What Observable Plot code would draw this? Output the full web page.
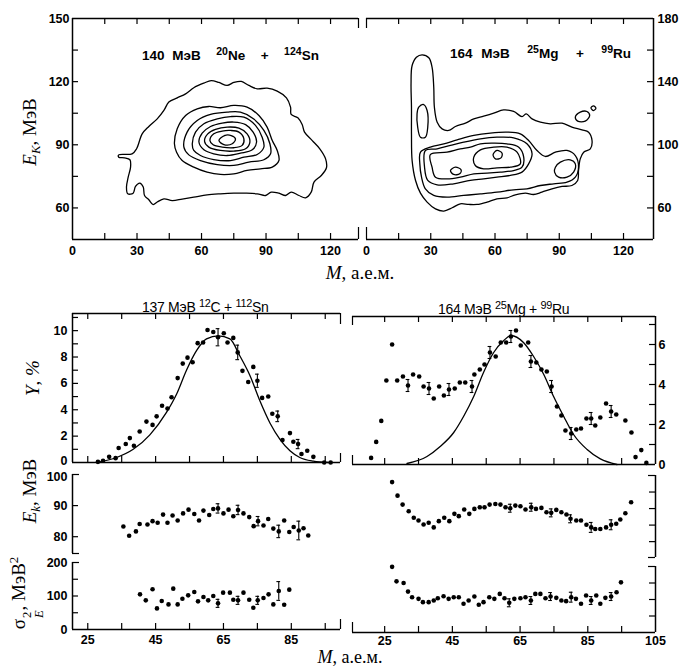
<!DOCTYPE html>
<html>
<head>
<meta charset="utf-8">
<script src="https://cdn.jsdelivr.net/npm/d3@7"></script>
<script src="https://cdn.jsdelivr.net/npm/@observablehq/plot@0.6"></script>
<style>
  body { margin: 0; background: #fff; }
  #fig { position: relative; width: 682px; height: 669px; overflow: hidden; background: #fff; }
  #fig svg { position: absolute; left: 0; top: 0; }
  .lab { position: absolute; white-space: nowrap; line-height: 1; color: #000;
         font-family: "Liberation Serif", "DejaVu Serif", serif; font-size: 19px;
         transform: translate(-50%, -50%); }
  .lab.rot { transform: translate(-50%, -50%) rotate(-90deg); }
  .lab sub { font-size: 0.68em; vertical-align: -0.35em; line-height: 0; }
  .lab sup { font-size: 0.68em; vertical-align: 0.55em; line-height: 0; }
  .stk { display: inline-flex; flex-direction: column; align-items: flex-start; font-size: 0.66em;
         line-height: 0.95; vertical-align: -0.5em; margin-left: 1px; }
  .tt { position: absolute; white-space: nowrap; line-height: 1; color: #000;
        font-family: "Liberation Sans", Arial, sans-serif; transform: translateY(-50%); }
  .tt sup { font-size: 0.78em; vertical-align: 0.5em; line-height: 0; }
</style>
</head>
<body>
<div id="fig"></div>
<script>
// ---------- Contour maps E_K vs M (closed iso-lines, [M, E_K]) ----------
const neSnContours = [
  [[21.5,85.2],[27.7,85.7],[29.8,88.1],[32.4,95.2],[35.5,98.7],[39.4,102.3],[42.5,106.3],[44.8,110.3],[48.7,112.3],[52.6,114.2],[56.4,117.1],[61.1,119.3],[64.5,120.5],[68.1,119.6],[71.9,118.2],[75,119.6],[78.5,120.1],[82,118.2],[85.9,116.6],[90.5,116.9],[95.2,115.5],[99.5,112.3],[101.4,107.9],[101.7,104.4],[104.8,102.8],[106.8,99.6],[107.9,96],[111.5,92],[115,88.1],[117.7,83.3],[118.1,79.1],[115.7,75.4],[112.3,72.3],[111,67.5],[108.4,64.8],[105.3,65.9],[101.7,67.5],[99.1,65.9],[96,67],[92.4,67.5],[89.8,65.9],[85.9,66.7],[80.5,67],[75,67],[68.8,66.7],[62.6,66.2],[56.4,65.1],[51,64.2],[46.4,63.5],[42.5,64.3],[39.4,62.8],[37.5,61.6],[35.5,63.9],[33.5,65.9],[32.9,69.9],[31.3,71.8],[29.3,70.2],[28.2,67],[25.7,66.7],[25.1,69.9],[25.9,74.6],[27,79.4],[26.7,82.9],[24.2,83.8],[21.5,84.1]],
  [[47.4,90.5],[48.7,97.6],[52.6,103.9],[58,107.1],[63.4,108.2],[68.8,107.6],[75,108.7],[81.2,107.9],[86.7,103.9],[90.5,98.4],[92.9,92],[95.2,87.3],[96,82.5],[92.9,79.4],[87.4,78.6],[81.2,77.8],[75,76.2],[68.8,75.9],[62.6,77],[56.4,79.4],[51,82.5],[48.4,86.5]],
  [[51.8,88.9],[53.3,96],[58,101.5],[64.2,104.4],[71.9,105.5],[78.1,105.5],[84.3,102.3],[89,96.8],[91.8,90.5],[92.1,85.7],[89,82.9],[82,81.8],[75,80.2],[67.3,80.6],[59.5,82.5],[54.1,85.2]],
  [[55.7,90.5],[57.2,96],[61.1,100],[67.3,102.3],[73.5,103.4],[79.7,103.1],[85.1,99.2],[88.2,93.6],[89,88.9],[85.9,85.4],[79.7,84.1],[73.5,82.5],[65.7,83],[59.5,84.9],[56.4,87.3]],
  [[58.8,91.3],[60.3,95.5],[64.2,98.7],[69.6,100.3],[75,100.8],[80.5,99.6],[84,96],[85.6,91.3],[83.6,87.6],[78.1,86],[71.9,84.9],[65.7,85.7],[61.1,87.6]],
  [[61.4,91.7],[62.9,95.2],[66.5,97.3],[71.9,98.4],[77.4,97.9],[81.2,95.2],[82.5,91.3],[80.5,88.1],[75,87],[68.8,87.3],[63.4,88.9]],
  [[63.9,92],[65.7,95.2],[69.6,96.5],[73.5,96.8],[77.4,96],[79.7,92.8],[78.9,89.7],[75,88.6],[69.6,88.9],[65.4,90]],
  [[68.1,92],[70.7,94.4],[73.8,94.4],[75.8,92.8],[74.3,90.5],[70.4,90.1]]
];

const mgRuContours = [
  [[26,157],[29.1,155.1],[30.6,149.2],[31.4,136.5],[31.7,123.8],[33,114.3],[35.3,110.1],[38.4,109.1],[41.5,111.6],[46.2,113.7],[50.1,116.4],[54.7,118.1],[59.4,120],[64,122.1],[68.7,121.1],[72.6,117.9],[74.6,119.6],[77.3,116.4],[81.2,114.3],[85.8,113.3],[91.3,113.7],[95.9,111.2],[100.6,109.5],[103.7,108],[105.3,102.7],[104.5,97.4],[101.4,95.3],[99.8,91.1],[99,83.7],[98.6,77.4],[95.9,74.2],[91.3,73.6],[86.6,72.1],[81.9,70],[78,68.5],[74.2,69.4],[69.5,68.3],[65.6,66.4],[60.9,65.8],[56.3,63.7],[51.6,62.2],[47.7,62.2],[43.8,62.6],[40,60.1],[36.1,58],[32.2,59.4],[28.3,63.7],[25.2,69.4],[22.9,77.4],[21.3,90],[21,106.9],[21,123.8],[20.8,138.6],[21.3,150.2],[23.3,155.5]],
  [[24.4,123.8],[26.7,125.5],[28.3,121.7],[28.6,111.2],[27.5,104.8],[25.2,104.8],[23.9,111.2],[23.6,119.6]],
  [[25.2,95.3],[29.8,98.5],[36.1,100.6],[42.3,103.1],[50.1,105.9],[57.8,107.4],[65.6,108],[71.8,106.9],[75.7,102.7],[79.6,96.4],[83.5,92.6],[88.2,95.3],[93.6,96.4],[97.5,93.2],[99,85.8],[97.5,79.5],[93.6,76.3],[87.4,75.3],[81.2,74.2],[74.9,72.1],[68.7,71.5],[60.9,70],[53.2,68.9],[45.4,67.9],[37.6,66.8],[31.4,67.9],[27.5,72.1],[25.7,79.5],[24.9,87.9]],
  [[88.2,85.8],[90.5,89],[95.1,90.5],[97.5,87.9],[96.7,82.7],[93.6,79.5],[89.7,79.5],[87.8,82.7]],
  [[27.5,96.4],[33,97.4],[39.2,99.6],[45.4,101.7],[53.2,103.8],[60.9,104.8],[68.7,104.4],[74.9,100.6],[77.3,94.3],[75.7,87.9],[72.6,82.7],[67.2,80.6],[60.9,79.5],[54.7,78.4],[48.5,77.4],[40.7,75.3],[33,74.6],[28.6,77.4],[27.1,85.8]],
  [[29.8,93.8],[37.6,95.3],[43.8,97.4],[48.5,98.5],[53.2,100.6],[59.4,101],[65.6,100.6],[71.1,98.5],[73.4,92.2],[72.6,85.8],[68.7,83.7],[62.5,82.7],[56.3,82],[50.1,81.6],[43.8,79.5],[37.6,78.4],[32.2,79.5],[30.6,85.8]],
  [[50.1,92.2],[53.2,96.8],[59.4,98.5],[65.6,98.5],[70.3,95.3],[71.8,87.9],[67.2,85.8],[60.9,85.4],[54.7,84.8],[50.8,86.9]],
  [[39.2,83.7],[41.5,85.8],[44.2,84.1],[43.5,81.6],[40.7,81.2]],
  [[59.1,93.8],[60.9,96.4],[63.3,94.7],[62.8,91.7],[60.2,91.1]],
  [[97.5,117.5],[99.8,120.7],[102.9,121.1],[104.2,118.6],[102.1,115],[98.6,115]],
  [[104.8,123.4],[106,124.7],[107.1,123.2],[106,121.7]]
];

// ---------- Yields Y(M), % : points [M, Y], error points [M, Y, ±] ----------
const yieldCSn = [[28,0.05],[29.5,0.13],[31.3,0.43],[33.2,0.33],[34.1,1.1],[36.2,1.4],[37.4,1.85],[38.6,1.27],[40.3,2.35],[42.3,3.1],[44.1,2.85],[45.3,3.5],[46.9,4.3],[48.5,4.1],[49.7,4.95],[51.5,6.4],[53,7.5],[54.4,7.95],[55.9,7.6],[57.4,9.05],[59,9.1],[60.3,10.05],[62,9.9],[65.1,9.8],[66.2,9.1],[67.9,9.45],[70.6,6.95],[72.3,6.1],[73.8,7.25],[76.4,4.9],[78.2,5.0],[79.4,3.7],[82.4,1.7],[84.6,2.23],[85.6,1.57],[88,0.64],[89.7,0.89],[91.5,0.43],[94.7,0],[96.6,0]];
const yieldCSnErr = [[63.4,9.5,0.65],[69.2,8.35,0.55],[75,6.2,0.5],[81,3.5,0.4],[87,1.4,0.35]];
const yieldCSnFit = [[27.6,0],[33.5,0.38],[38.4,1.0],[43.3,2.1],[48.2,3.8],[51.2,5.2],[54.1,7.0],[57.1,8.5],[60,9.37],[63.5,9.6],[66.9,9.37],[69.8,8.1],[72.8,6.6],[75.7,4.7],[78.7,3.0],[81.6,1.78],[84.6,0.89],[87.5,0.38],[91.5,0.1],[95.9,0]];

const yieldMgRu = [[21,0.33],[22.5,1.13],[24,2.18],[25.5,4.2],[27.2,6.0],[28.7,4.2],[30.4,4.4],[33.4,4.5],[35.2,4.4],[36.5,3.9],[39.5,3.3],[41.1,3.9],[42.5,3.45],[45.7,3.8],[47.2,4.1],[48.8,4.1],[51.5,4.5],[53.1,4.75],[54.5,5.0],[57.8,5.4],[59.3,6.1],[60.9,6.1],[63.8,6.7],[65.2,5.95],[67.4,6.1],[69.8,5.1],[71.3,4.75],[72.9,4.65],[75.9,2.9],[77.2,2.45],[78.4,1.7],[81.6,1.75],[83,1.8],[84.6,2.3],[87.2,1.95],[88.7,2.35],[90.4,3.05],[93.4,2.5],[96.1,2.2],[97.9,1.6],[99.1,0.37],[100.8,0.72],[102.3,0.08]];
const yieldMgRuErr = [[31.9,3.95,0.3],[38.1,3.8,0.3],[44,3.75,0.3],[50.8,3.9,0.3],[56.1,5.6,0.3],[62.3,6.4,0.3],[68.2,5.15,0.3],[74.3,3.9,0.3],[80.1,1.55,0.3],[86,2.3,0.3],[91.9,2.65,0.3]];
const yieldMgRuFit = [[31.6,0.05],[37.5,0.4],[41.4,0.9],[45.4,1.6],[48.3,2.4],[51.3,3.4],[54.2,4.6],[57.2,5.6],[60.2,6.2],[62.3,6.45],[66,6.1],[69,5.4],[72,4.5],[74.9,3.4],[77.9,2.4],[80.8,1.5],[84.8,0.75],[88.7,0.28],[93.6,0]];

// ---------- Mean kinetic energy E_k(M), MeV ----------
const ekCSn = [[35.5,83.3],[37.2,80.3],[39.2,81.7],[40.3,84.1],[42.6,83.9],[44.1,85],[45.6,84.5],[47.2,87.1],[48.5,84.5],[50,86.8],[51.5,85.2],[53.1,87.5],[54.7,88.7],[56.4,87.3],[57.8,85.2],[59.1,88.4],[60.8,87],[62,88.9],[65,87.5],[66.5,88.7],[67.9,86.6],[70.9,87.5],[72.6,86.3],[73.9,83.4],[76.8,83.6],[78.2,85.7],[79.7,82.6],[82.9,85.2],[84.4,81.5],[85.7,83.1],[88.6,82.7],[90,80.4]];
const ekCSnErr = [[63.4,89.1,1.5],[69.3,88.6,1.5],[75.2,85,1.5],[81.3,81.7,2],[87.2,82,3]];
const ekMgRu = [[27.2,98],[28.8,93.9],[30.3,91.2],[32.1,89.2],[33.6,87.2],[35,86.4],[36.5,85.2],[38,85.7],[39.5,84.3],[41,86.2],[42.6,87.2],[44.1,86.2],[45.6,88.4],[46.9,87.7],[48.5,89.7],[50,88.4],[51.5,89.9],[53.1,90.4],[54.5,90.4],[56,91.2],[57.7,91.4],[59.2,91.2],[60.7,90.4],[63.6,90.9],[65.1,90.7],[66.6,89.7],[69.7,89.9],[71.3,90.2],[72.8,88.9],[75.7,89.6],[77.2,88.9],[78.7,88.2],[81.6,86.4],[83,86.4],[84.6,85.1],[87.2,83.8],[88.7,83.8],[90.4,84.3],[93.4,85.4],[94.6,86.7],[96.1,88.6],[97.8,91.9]];
const ekMgRuErr = [[62.1,90.1,1.2],[68.3,90.4,1.2],[74.2,88.7,1.2],[79.9,86.9,1.2],[86,84.3,1.5],[91.9,85.1,1.5]];

// ---------- Energy variance sigma_E^2(M), MeV^2 ----------
const varCSn = [[40.4,105],[42.1,87],[44.1,120],[45.4,63],[46.8,85],[48.8,75],[50.2,122],[51.5,75],[52.9,92],[54.6,102],[56.4,112],[57.5,84],[59.1,97],[60.5,87],[62,100],[64.9,110],[66.9,110],[67.9,89],[70.9,110],[72.6,89],[73.8,65],[76.8,94],[78.3,105],[79.7,75],[82.9,74],[84.4,119]];
const varCSnErr = [[63.4,78,12],[69.3,87,12],[75.1,87,12],[81.3,115,28]];
const varMgRu = [[27.2,199],[28.5,155],[30.6,150],[31.9,124],[33.1,107],[35,102],[36.3,92],[38,92],[39.5,97],[40.7,104],[42.4,110],[43.9,102],[45.4,107],[46.9,107],[48.3,87],[49.8,97],[51.5,109],[52.8,84],[54.2,92],[55.9,107],[57.4,102],[59,117],[60.4,104],[63.3,102],[65.1,104],[66.6,107],[69.5,117],[71,117],[72.5,104],[75.7,105],[77.2,97],[78.6,95],[81.5,102],[83,87],[84.5,112],[87.5,112],[88.7,87],[90.2,105],[93.5,122],[94.8,152]];
const varMgRuErr = [[61.8,90,12],[68.2,97,12],[74,109,12],[80.1,107,15],[86,97,12],[91.9,109,12]];

// ---------- Tick values ----------
const mapTicksM = [15, 30, 45, 60, 75, 90, 105, 120];
const mapLabelsM = [0, 30, 60, 90, 120];
const neSnTicksE = [60, 75, 90, 105, 120, 135];
const neSnLabelsE = [60, 90, 120, 150];
const mgRuTicksE = [60, 80, 100, 120, 140, 160];
const mgRuLabelsE = [60, 100, 140, 180];
const massTicks = [25, 35, 45, 55, 65, 75, 85, 95];
const massLabelsLeft = [25, 45, 65, 85];
const massLabelsRight = [25, 45, 65, 85, 105];
const yieldTicksLeft = [1, 2, 3, 4, 5, 6, 7, 8, 9, 10, 11];
const yieldLabelsLeft = [2, 4, 6, 8, 10];
const yieldZeroLeft = [0];
const yieldTicksRight = [1, 2, 3, 4, 5, 6, 7];
const yieldLabelsRight = [0, 2, 4, 6];
const ekTicksLeft = [80, 90];
const ekLabels = [80, 90];
const ekTopLabel = [100];
const ekTicksRight = [80, 85, 90, 95];
const varTicks = [50, 100, 150];
const varLabels = [0, 100, 200];

// ---------- Drawing ----------
const W = 682, H = 669;
const fig = document.getElementById("fig");
const black = "black";

function panel({x, y, box, marks}) {
  const [l, t, r, b] = box;
  const svg = Plot.plot({
    width: W, height: H,
    marginLeft: l, marginTop: t, marginRight: W - r, marginBottom: H - b,
    x: {domain: x, axis: null},
    y: {domain: y, axis: null},
    style: {background: "transparent", color: black, overflow: "visible",
            fontFamily: "'Liberation Sans', Arial, sans-serif", fontSize: "12.5px", fontWeight: "bold"},
    marks
  });
  fig.appendChild(svg);
}

// inward tick marks along one edge of a frame of size fw x fh
const ticksX = (vals, fh, side, len = 6) => Plot.tickX(vals, {x: d => d, stroke: black, strokeWidth: 1.2,
  insetTop: side === "bottom" ? fh - len : 0, insetBottom: side === "top" ? fh - len : 0});
const ticksY = (vals, fw, side, len = 6) => Plot.tickY(vals, {y: d => d, stroke: black, strokeWidth: 1.2,
  insetRight: side === "left" ? fw - len : 0, insetLeft: side === "right" ? fw - len : 0});
const edgeX = v => Plot.ruleX([v], {stroke: black, strokeWidth: 1.5});
const edgeY = v => Plot.ruleY([v], {stroke: black, strokeWidth: 1.5});
const labelsX = (ticks, pad = 6) => Plot.axisX({anchor: "bottom", ticks, tickSize: 0, tickPadding: pad, label: null, tickFormat: d => String(d)});
const labelsY = (ticks, side, pad = 4, dy = 0) => Plot.axisY({anchor: side, ticks, tickSize: 0, tickPadding: pad, dy, label: null, tickFormat: d => String(d)});

const rings = sets => sets.flatMap((ring, id) => ring.map(([M, E]) => ({id, M, E})));
const contours = sets => Plot.line(rings(sets), {x: "M", y: "E", z: "id", curve: "catmull-rom-closed", stroke: black, strokeWidth: 1.3});

const cap = 0.55;
function points(pts, errs) {
  return [
    Plot.ruleX(errs, {x: d => d[0], y1: d => d[1] - d[2], y2: d => d[1] + d[2], stroke: black, strokeWidth: 1.1}),
    Plot.ruleY(errs, {y: d => d[1] + d[2], x1: d => d[0] - cap, x2: d => d[0] + cap, stroke: black, strokeWidth: 1.1}),
    Plot.ruleY(errs, {y: d => d[1] - d[2], x1: d => d[0] - cap, x2: d => d[0] + cap, stroke: black, strokeWidth: 1.1}),
    Plot.dot([...pts, ...errs], {x: d => d[0], y: d => d[1], r: 2.3, fill: black, stroke: "none"})
  ];
}
const fit = line => Plot.line(line, {x: d => d[0], y: d => d[1], curve: "monotone-x", stroke: black, strokeWidth: 1.3});

// Top left: 140 MeV 20Ne + 124Sn contour map
{
  const box = [72, 18, 358, 239], fw = box[2] - box[0], fh = box[3] - box[1];
  panel({x: [0, 133], y: [45, 150], box, marks: [
    edgeX(0), edgeY(45), edgeY(150),
    ticksX([133], fh, "top", 10), ticksX([133], fh, "bottom", 12),
    ticksX(mapTicksM, fh, "top"), ticksX(mapTicksM, fh, "bottom"),
    ticksY(neSnTicksE, fw, "left"),
    labelsX(mapLabelsM, 7), labelsY(neSnLabelsE, "left", 3),
    contours(neSnContours)
  ]});
}
// Top right: 164 MeV 25Mg + 99Ru contour map
{
  const box = [366, 18, 653, 239], fw = box[2] - box[0], fh = box[3] - box[1];
  panel({x: [0, 134], y: [40, 180], box, marks: [
    edgeX(134), edgeY(40), edgeY(180),
    ticksX([0], fh, "top", 10), ticksX([0], fh, "bottom", 12),
    ticksX(mapTicksM, fh, "top"), ticksX(mapTicksM, fh, "bottom"),
    ticksY(mgRuTicksE, fw, "right"),
    labelsX(mapLabelsM, 7), labelsY(mgRuLabelsE, "right", 4),
    contours(mgRuContours)
  ]});
}
// Yields, left (12C + 112Sn)
{
  const box = [72, 313, 340, 462], fw = box[2] - box[0], fh = box[3] - box[1];
  panel({x: [20.5, 99.5], y: [0, 11.3], box, marks: [
    edgeX(20.5), edgeY(0), edgeY(11.3),
    ticksX([99.5], fh, "top", 11), ticksX([99.5], fh, "bottom", 9),
    ticksX(massTicks, fh, "top"), ticksX(massTicks, fh, "bottom"),
    ticksY(yieldTicksLeft, fw, "left"),
    labelsY(yieldLabelsLeft, "left", 5), labelsY(yieldZeroLeft, "left", 5, -2),
    fit(yieldCSnFit), ...points(yieldCSn, yieldCSnErr)
  ]});
}
// Yields, right (25Mg + 99Ru)
{
  const box = [352, 316, 655, 464], fw = box[2] - box[0], fh = box[3] - box[1];
  panel({x: [15.5, 105], y: [0, 7.4], box, marks: [
    edgeX(105), edgeY(0), edgeY(7.4),
    ticksX([15.5], fh, "top", 9), ticksX([15.5], fh, "bottom", 9),
    ticksX(massTicks, fh, "top"), ticksX(massTicks, fh, "bottom"),
    ticksY(yieldTicksRight, fw, "right"),
    labelsY(yieldLabelsRight, "right", 3),
    fit(yieldMgRuFit), ...points(yieldMgRu, yieldMgRuErr)
  ]});
}
// Kinetic energy, left
{
  const box = [72, 474, 340, 553], fw = box[2] - box[0];
  panel({x: [20.5, 99.5], y: [74.6, 100], box, marks: [
    edgeX(20.5), ticksY([100, 74.6], fw, "left", 7), ticksY(ekTicksLeft, fw, "left"),
    labelsY(ekLabels, "left", 5), labelsY(ekTopLabel, "left", 5, 2),
    ...points(ekCSn, ekCSnErr)
  ]});
}
// Kinetic energy, right
{
  const box = [352, 475, 655, 557], fw = box[2] - box[0];
  panel({x: [15.5, 105], y: [75.2, 100], box, marks: [
    edgeX(105), ticksY([100, 75.2], fw, "right", 7), ticksY(ekTicksRight, fw, "right"),
    ...points(ekMgRu, ekMgRuErr)
  ]});
}
// Variance, left
{
  const box = [72, 562, 340, 629], fw = box[2] - box[0], fh = box[3] - box[1];
  panel({x: [20.5, 99.5], y: [0, 200], box, marks: [
    edgeX(20.5), edgeY(0), ticksY([200], fw, "left", 7), ticksY(varTicks, fw, "left"),
    ticksX([99.5], fh, "bottom", 10), ticksX(massTicks, fh, "bottom"),
    labelsX(massLabelsLeft, 6), labelsY(varLabels, "left", 5),
    ...points(varCSn, varCSnErr)
  ]});
}
// Variance, right
{
  const box = [352, 566, 655, 632], fw = box[2] - box[0], fh = box[3] - box[1];
  panel({x: [15.5, 105], y: [0, 200], box, marks: [
    edgeX(105), edgeY(0), ticksY([200], fw, "right", 7), ticksY(varTicks, fw, "right"),
    ticksX([15.5], fh, "bottom", 10), ticksX(massTicks, fh, "bottom"),
    labelsX(massLabelsRight, 4),
    ...points(varMgRu, varMgRuErr)
  ]});
}

// ---------- Titles and axis names ----------
const texts = [
  {cls: "tt", html: "140 МэВ&nbsp; <sup>20</sup>Ne&nbsp; +&nbsp; <sup>124</sup>Sn", x: 142, y: 56, style: "font-size:13.5px;font-weight:bold;word-spacing:4px"},
  {cls: "tt", html: "164 МэВ&nbsp; <sup>25</sup>Mg&nbsp; +&nbsp; <sup>99</sup>Ru", x: 450, y: 54, style: "font-size:13.5px;font-weight:bold;word-spacing:5px"},
  {cls: "tt", html: "137 МэВ <sup>12</sup>C + <sup>112</sup>Sn", x: 142, y: 307, style: "font-size:14px;letter-spacing:-0.3px"},
  {cls: "tt", html: "164 МэВ <sup>25</sup>Mg + <sup>99</sup>Ru", x: 438, y: 309, style: "font-size:14px;letter-spacing:-0.3px"},
  {cls: "lab", html: "<i>M</i>, а.е.м.", x: 360, y: 272},
  {cls: "lab", html: "<i>M</i>, а.е.м.", x: 350, y: 657, style: "font-size:18px"},
  {cls: "lab rot", html: "<i>E</i><sub><i>K</i></sub>, МэВ", x: 29, y: 132},
  {cls: "lab rot", html: "<i>Y</i>, <i>%</i>", x: 32, y: 378},
  {cls: "lab rot", html: "<i>E</i><sub><i>k</i></sub>, МэВ", x: 29, y: 491},
  {cls: "lab rot", html: "σ<span class=\"stk\"><span>2</span><i>E</i></span>, МэВ<sup>2</sup>", x: 28, y: 593}
];
for (const t of texts) {
  const el = document.createElement("div");
  el.className = t.cls;
  el.innerHTML = t.html;
  el.style.left = t.x + "px";
  el.style.top = t.y + "px";
  if (t.style) el.style.cssText += t.style;
  fig.appendChild(el);
}
</script>
</body>
</html>
